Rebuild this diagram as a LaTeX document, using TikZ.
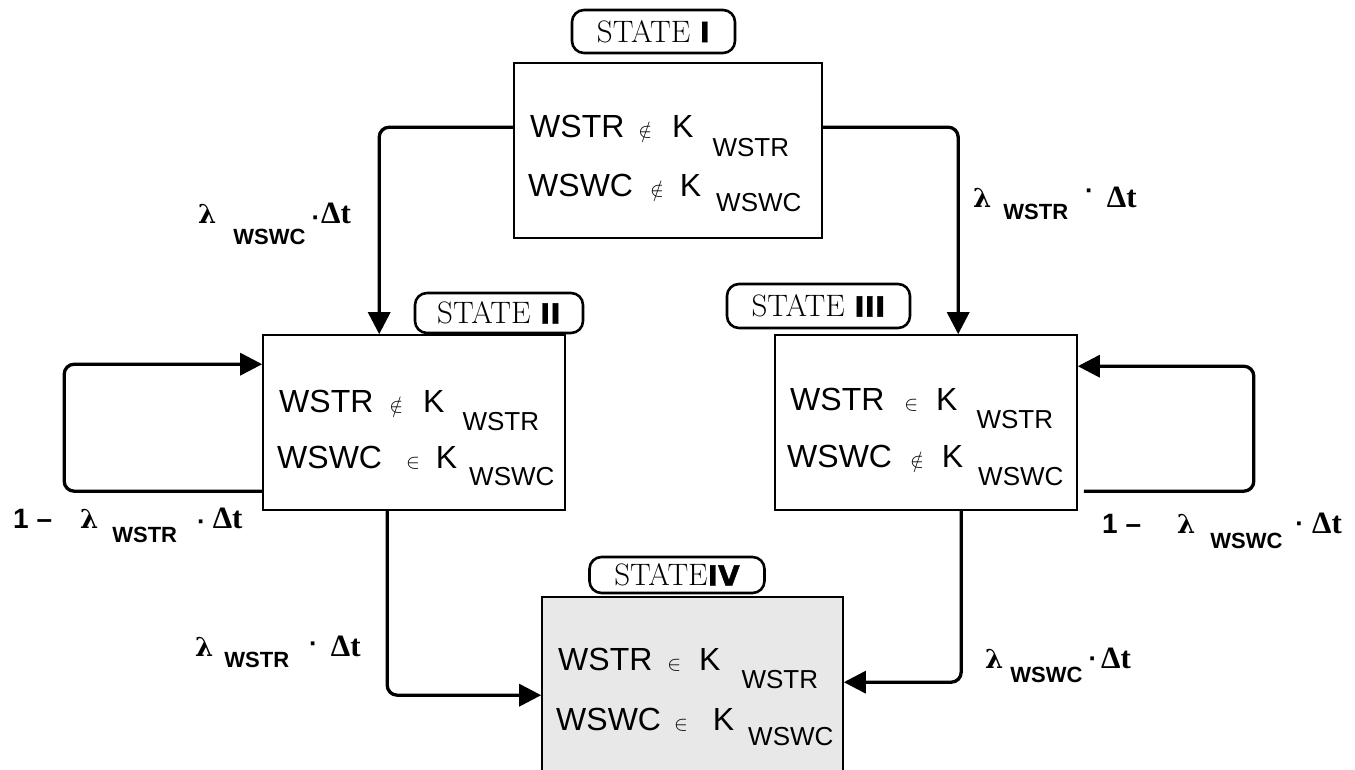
\documentclass[tikz,border=0pt]{standalone}
\usepackage{fontspec}
\usetikzlibrary{arrows.meta,calc}
\newfontfamily\sansf{Liberation Sans}
\newfontfamily\serff{Liberation Serif}
\newfontfamily\greekf{DejaVu Serif}
\newfontfamily\heavyf[BoldFeatures={FakeBold=1.5}]{DejaVu Sans}
\definecolor{boxgray}{RGB}{232,232,232}
\newcommand\mainf{\sansf\fontsize{32}{36}\selectfont}
\newcommand\subf{\sansf\fontsize{26}{30}\selectfont}
\newcommand\symf{\fontsize{22}{26}\selectfont}
\newcommand\lamf{\serff\bfseries\fontsize{31}{34}\selectfont}
\newcommand\lamsym{{\greekf\bfseries\fontsize{26}{30}\selectfont λ}}
\newcommand\labsubf{\sansf\bfseries\fontsize{22}{26}\selectfont}
\newcommand\dotf{\sansf\bfseries\fontsize{26}{30}\selectfont}
\newcommand\onef{\sansf\bfseries\fontsize{28}{32}\selectfont}
\newcommand\statef{\fontsize{31}{34}\selectfont}
\newcommand\numf{\heavyf\bfseries\fontsize{28}{32}\selectfont}
% #1 word, #2 relation, #3..#5 gaps, #6 subscript drop
\newcommand\eqln[6]{#1\hspace{#3}{\symf$#2$}\hspace{#4}K\hspace{#5}\raisebox{-#6}{\subf #1}}
% #1 sub, #2 gap, #3 drop, #4 gap, #5 dot raise, #6 gap
\newcommand\lamlab[6]{\lamsym\hspace{#2}\raisebox{-#3}{\labsubf #1}\hspace{#4}\raisebox{#5}{\dotf ·}\hspace{#6}{\lamf Δt}}
\begin{document}
\begin{tikzpicture}[x=1pt,y=-1pt,
  box/.style={draw, line width=1.6pt, inner sep=0pt},
  tag/.style={draw, rounded corners=12pt, line width=2.6pt, inner sep=0pt, font=\statef},
  txt/.style={anchor=base west, inner sep=0pt, font=\mainf},
  lab/.style={anchor=base west, inner sep=0pt},
  arr/.style={line width=3.3pt, -{Triangle[length=22pt,width=22pt]}, rounded corners=10pt}]
\useasboundingbox (0,0) rectangle (1355,770);
\clip (0,0) rectangle (1355,770);
\fill[white] (0,0) rectangle (1355,770);

% state boxes
\node[box, minimum width=308pt, minimum height=175pt] (s1) at (668,150.5) {};
\node[box, minimum width=302pt, minimum height=175pt] (s2) at (414,422.5) {};
\node[box, minimum width=302pt, minimum height=175pt] (s3) at (926,422.5) {};
\node[box, fill=boxgray, minimum width=301pt, minimum height=175pt] (s4) at (692.5,684.5) {};

% tags
\node[tag, minimum width=163pt, minimum height=43pt] (t1) at (653.5,31.5) {STATE {\numf I}};
\node[tag, minimum width=168pt, minimum height=40pt] (t2) at (499,313) {STATE {\numf II}};
\node[tag, minimum width=183pt, minimum height=44pt] (t3) at (818.5,306) {STATE {\numf III}};
\node[tag, minimum width=175pt, minimum height=36pt] (t4) at (677,575) {STATE{\numf IV}};

% box contents
\node[txt] (s1a) at (530,138) {\eqln{WSTR}{\notin}{14pt}{20pt}{19pt}{19pt}};
\node[txt] (s1b) at (528,197) {\eqln{WSWC}{\notin}{17pt}{16pt}{15pt}{15pt}};
\node[txt] (s2a) at (279,412) {\eqln{WSTR}{\notin}{16pt}{20pt}{18pt}{18pt}};
\node[txt] (s2b) at (277,468) {\eqln{WSWC}{\in}{24pt}{16pt}{12pt}{17pt}};
\node[txt] (s3a) at (790,410) {\eqln{WSTR}{\in}{20pt}{18pt}{19pt}{18pt}};
\node[txt] (s3b) at (787,467) {\eqln{WSWC}{\notin}{18pt}{18pt}{15pt}{18pt}};
\node[txt] (s4a) at (558,670) {\eqln{WSTR}{\in}{15pt}{18pt}{21pt}{18pt}};
\node[txt] (s4b) at (556,730) {\eqln{WSWC}{\in}{13pt}{25pt}{14pt}{15pt}};

% connectors
\draw[arr] ($(s1.north west)+(0,65)$) -| ($(s2.north west)+(117,0)$);
\draw[arr] ($(s1.north east)+(0,65)$) -| ($(s3.north west)+(184,0)$);
\draw[arr] ($(s2.south west)+(125,0)$) |- ($(s4.north west)+(0,99)$);
\draw[arr] ($(s3.south west)+(187,0)$) |- ($(s4.north east)+(0,86)$);
\draw[arr] ($(s2.north west)+(0,157)$) -| ($(s2.north west)+(-198,30)$) -- ($(s2.north west)+(0,30)$);
\draw[arr] ($(s3.north east)+(6,157)$) -| ($(s3.north east)+(176,32)$) -- ($(s3.north east)+(0,32)$);

% connector labels
\node[lab] (l12) at (198,224) {\lamlab{WSWC}{17pt}{21pt}{6pt}{-3pt}{1pt}};
\node[lab] (l13) at (973,208) {\lamlab{WSTR}{12pt}{12pt}{17pt}{9pt}{13pt}};
\node[lab] (l24) at (195,656) {\lamlab{WSTR}{11pt}{11pt}{20pt}{4pt}{13pt}};
\node[lab] (l34) at (985,668) {\lamlab{WSWC}{7pt}{14pt}{6pt}{1pt}{4pt}};
\node[lab] (l22) at (13,528) {{\onef 1 –}\hspace{28pt}\lamlab{WSTR}{14pt}{14pt}{20pt}{-2pt}{7pt}};
\node[lab] (l33) at (1102,533) {{\onef 1 –}\hspace{36pt}\lamlab{WSWC}{15pt}{15pt}{13pt}{1pt}{8pt}};
\end{tikzpicture}
\end{document}
